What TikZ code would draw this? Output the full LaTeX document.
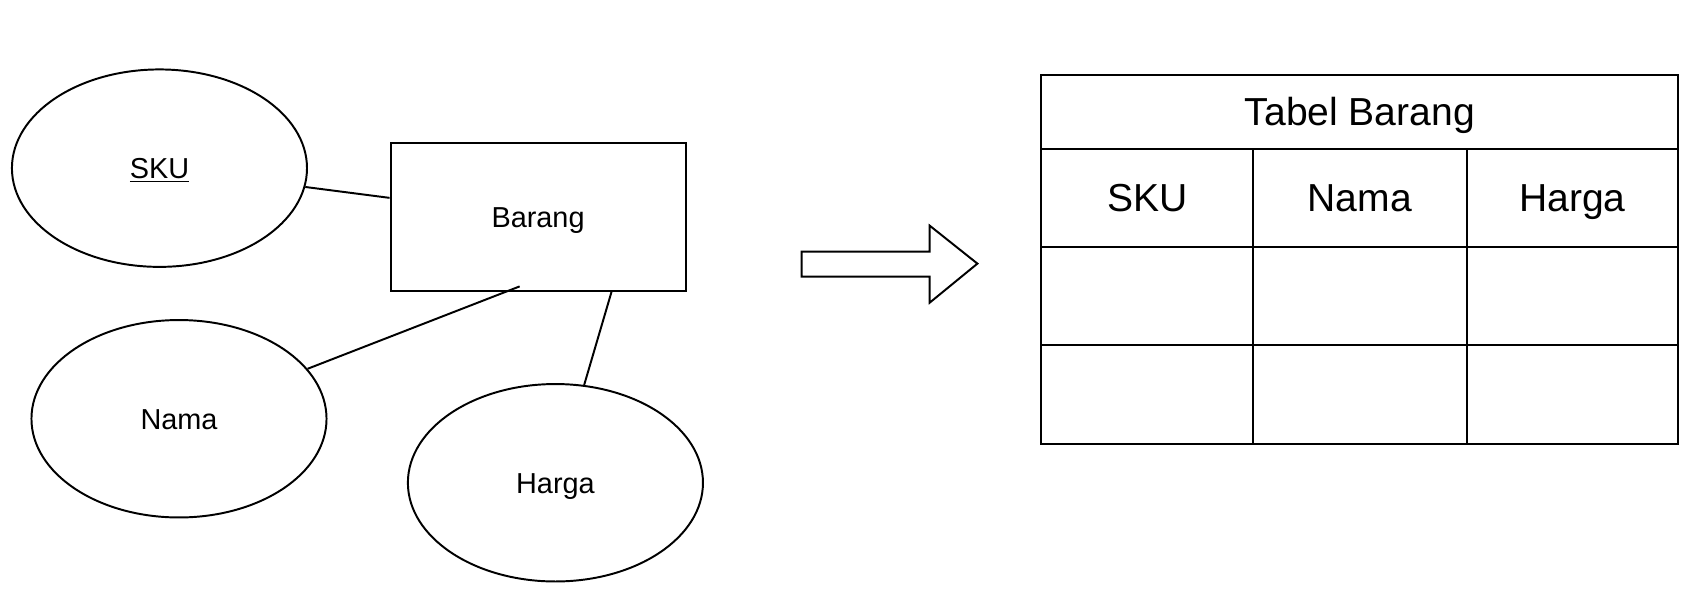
\documentclass[tikz,border=0pt]{standalone}
\usepackage{fontspec}
\setmainfont{Liberation Sans}
\usetikzlibrary{shapes.geometric}
\begin{document}
\begin{tikzpicture}[x=0.5pt,y=-0.5pt,line width=0.9pt,
  attr/.style={draw,ellipse,minimum width=136pt,minimum height=91pt,inner sep=0pt,font=\fontsize{13.3pt}{16pt}\selectfont,text height=9.5pt,text depth=0pt},
  ent/.style={draw,rectangle,minimum width=136pt,minimum height=68pt,inner sep=0pt,font=\fontsize{13.3pt}{16pt}\selectfont,text height=9.5pt,text depth=0pt},
  cell/.style={draw,rectangle,inner sep=0pt,font=\fontsize{18pt}{21pt}\selectfont,text height=12.9pt,text depth=0pt},
  link/.style={draw}]
\useasboundingbox (0,0) rectangle (1568,543);
% ER part
\node[attr] (sku) at (147,155) {\underline{SKU}};
\node[ent] (barang) at (496,200) {Barang};
\node[attr] (nama) at (165,386) {Nama};
\node[attr] (harga) at (512,445) {Harga};
\coordinate (cn) at (479,264);
\coordinate (ch) at (564,268);
\draw[link] (sku) -- (barang);
\draw[link] (nama) -- (cn);
\draw[link] (harga) -- (ch);
% block arrow
\draw (739,232) -- (857,232) -- (857,208) -- (901,243) -- (857,279) -- (857,255) -- (739,255) -- cycle;
% table
\node[cell,minimum width=293.5pt,minimum height=34pt] (title) at (1253.5,103) {Tabel Barang};
\node[cell,minimum width=97.5pt,minimum height=45.5pt] (h1) at (1057.5,182.5) {SKU};
\node[cell,minimum width=98.5pt,minimum height=45.5pt] (h2) at (1253.5,182.5) {Nama};
\node[cell,minimum width=97.5pt,minimum height=45.5pt] (h3) at (1449.5,182.5) {Harga};
\node[cell,minimum width=97.5pt,minimum height=45pt] (r11) at (1057.5,273) {};
\node[cell,minimum width=98.5pt,minimum height=45pt] (r12) at (1253.5,273) {};
\node[cell,minimum width=97.5pt,minimum height=45pt] (r13) at (1449.5,273) {};
\node[cell,minimum width=97.5pt,minimum height=45.5pt] (r21) at (1057.5,363.5) {};
\node[cell,minimum width=98.5pt,minimum height=45.5pt] (r22) at (1253.5,363.5) {};
\node[cell,minimum width=97.5pt,minimum height=45.5pt] (r23) at (1449.5,363.5) {};
\end{tikzpicture}
\end{document}
